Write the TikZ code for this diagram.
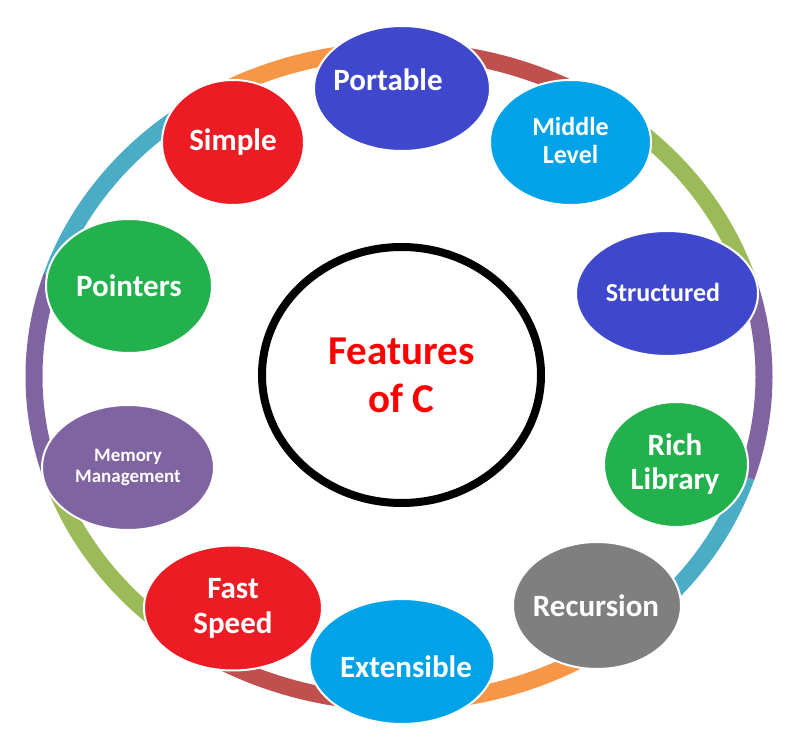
\documentclass[tikz,border=0pt]{standalone}
\usepackage{fontspec}
\setmainfont{Carlito}
\usetikzlibrary{calc}
\definecolor{ringred}{HTML}{C0504D}
\definecolor{ringgreen}{HTML}{9BBB59}
\definecolor{ringpurple}{HTML}{8064A2}
\definecolor{ringcyan}{HTML}{4BACC6}
\definecolor{ringorange}{HTML}{F79646}
\definecolor{featblue}{HTML}{3F48CC}
\definecolor{featsky}{HTML}{00A2E8}
\definecolor{featred}{HTML}{ED1C24}
\definecolor{featgreen}{HTML}{22B14C}
\definecolor{featpurple}{HTML}{8064A2}
\definecolor{featgray}{HTML}{7F7F7F}

\begin{document}
\begin{tikzpicture}[x=1pt, y=1pt]
    \useasboundingbox (0,0) rectangle (812,740);
    \coordinate (O) at (399,363.5); \coordinate (M) at (401.5,365);
    % coloured ring, one arc per gap between two features
    \foreach \a/\col in {90/ringred, 54/ringgreen, 18/ringpurple, -18/ringcyan, -54/ringorange,
                         -90/ringred, -126/ringgreen, -162/ringpurple, 162/ringcyan, 126/ringorange}
        {\draw[\col, line width=17pt] ($(O)+(\a:365 and 326)$) arc[start angle=\a, delta angle=-36, x radius=365, y radius=326];}
    % centre
    \draw[line width=8pt, fill=white] (M) ellipse [x radius=139.5, y radius=128];
    \node[text=red, align=center, font=\bfseries\fontsize{41}{48}\selectfont] (title) at (M) {Features\\of C};
    % features
    \foreach \x/\y/\rx/\ry/\col/\fs/\ls/\dx/\dy/\nm/\txt in {
        402/651.5/88/62.5/featblue/31/35/-14/9/portable/{Portable},
        570.5/597.5/80.5/62.5/featsky/26/28/0/2/middle/{Middle\\Level},
        667/446.5/91/62.5/featblue/26/28/-4/1/structured/{Structured},
        676/275.5/72/62.5/featgreen/31/34/-1/0/rich/{Rich\\Library},
        597/134.5/84/63.5/featgray/31/34/-1/0/recursion/{Recursion},
        402/78.5/92.5/62.5/featsky/31/34/4/-5/extensible/{Extensible},
        233/132/89/62.5/featred/31/35/0/0/fast/{Fast\\Speed},
        128/272.5/86/62.5/featpurple/19/21/0/0/memory/{Memory\\Management},
        129/454/83/67/featgreen/31/34/0/0/pointers/{Pointers},
        233/597.5/71/62.5/featred/31/34/0/0/simple/{Simple}}
    {
        \filldraw[fill=\col, draw=white, line width=2pt] (\x,\y) ellipse [x radius=\rx, y radius=\ry];
        \node[text=white, align=center, inner sep=0pt, font=\bfseries\fontsize{\fs}{\ls}\selectfont] (\nm) at (\x+\dx,\y+\dy) {\txt};
    }
\end{tikzpicture}
\end{document}
